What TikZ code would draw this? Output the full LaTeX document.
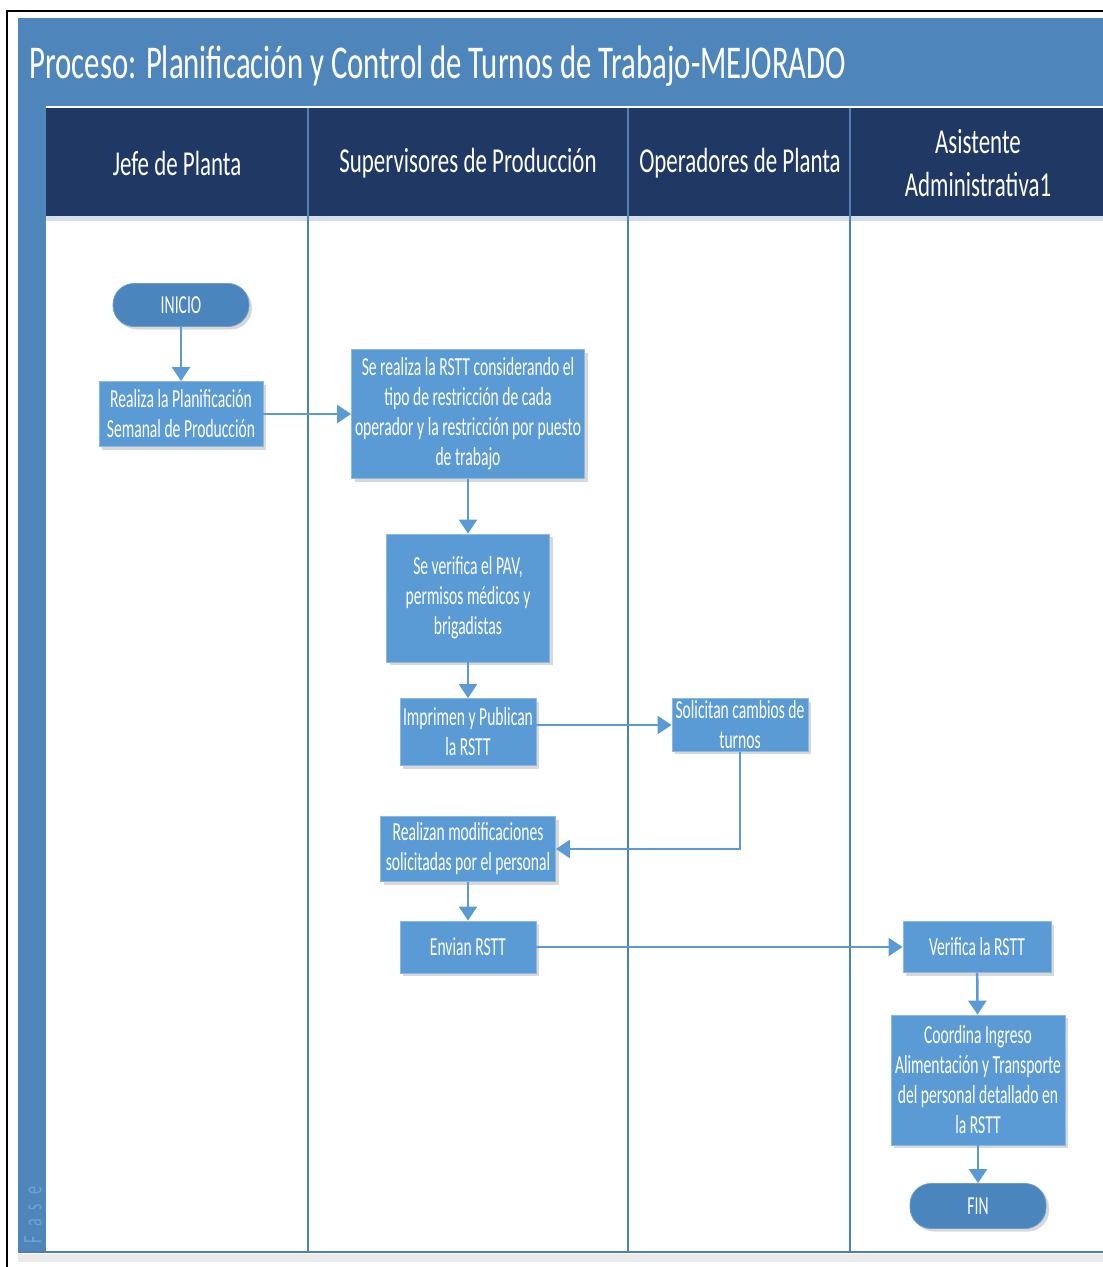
\documentclass[tikz,border=0pt]{standalone}
\usepackage{fontspec}
\setmainfont{Carlito}[FakeStretch=0.6]
\newfontfamily\headfont{Carlito}[FakeStretch=0.655]
\usetikzlibrary{arrows.meta,shadows}
\definecolor{bandblue}{HTML}{4E86BB}
\definecolor{headnavy}{HTML}{203864}
\definecolor{boxblue}{HTML}{5B9BD5}
\definecolor{termblue}{HTML}{4A85BD}
\definecolor{laneblue}{HTML}{4F80B2}
\definecolor{faseblue}{HTML}{6EA2D6}

\begin{document}
\begin{tikzpicture}[x=1pt,y=-1pt,
    act/.style={rectangle,fill=boxblue,draw=boxblue!70!white,line width=0.8pt,text=white,align=center,
      font=\fontsize{26}{30}\selectfont,inner sep=2pt,
      drop shadow={shadow xshift=3pt,shadow yshift=-3pt,opacity=0.3}},
    term/.style={act,fill=termblue,draw=termblue!80!white,rounded corners=21pt},
    flow/.style={draw=boxblue,line width=2.5pt,-{Triangle[length=14pt,width=18pt]}},
    lane/.style={draw=laneblue,line width=2pt},
    head/.style={text=white,align=center,font=\headfont\fontsize{35}{43}\selectfont}]
  \useasboundingbox (0,0) rectangle (1103,1267);
  \fill[white] (0,0) rectangle (1103,1267);
  % pool
  \fill[bandblue] (18,18) rectangle (1103,106);
  \fill[bandblue] (18,106) rectangle (46,1252);
  \fill[headnavy] (46,108) rectangle (1103,216);
  \fill[laneblue!25] (46,216) rectangle (1103,221);
  \fill[black!8] (18,1254) rectangle (1103,1262);
  \foreach \x in {308,628,850}
    \draw[lane] (\x,108) -- (\x,1252);
  \draw[lane] (18,1252) -- (1103,1252);
  \draw[black,line width=2pt] (7,1267) -- (7,11) -- (1103,11);
  \node[anchor=base west,text=white,font=\headfont\fontsize{47}{56}\selectfont] (title) at (26,78)
    {Proceso: Planificación y Control de Turnos de Trabajo-MEJORADO};
  \node[rotate=90,text=faseblue,font=\fontsize{27}{30}\selectfont] (fase) at (33,1215) {F\,\,a\,\,s\,\,e};
  % lanes
  \node[head] (jefe) at (177,163) {Jefe de Planta};
  \node[head] (sup) at (468,163) {Supervisores de Producción};
  \node[head] (oper) at (740,163) {Operadores de Planta};
  \node[head] (asis) at (978,163) {Asistente\\Administrativa1};
  % steps
  \node[term,minimum width=136pt,minimum height=43pt] (inicio) at (181,305) {INICIO};
  \node[act,minimum width=164pt,minimum height=65pt] (plan) at (181,414)
    {Realiza la Planificación\\Semanal de Producción};
  \node[act,minimum width=233pt,minimum height=129pt] (rstt) at (468,414)
    {Se realiza la RSTT considerando el\\tipo de restricción de cada\\operador y la restricción por puesto\\de trabajo};
  \node[act,minimum width=163pt,minimum height=128pt] (pav) at (468,598)
    {Se verifica el PAV,\\permisos médicos y\\brigadistas};
  \node[act,minimum width=136pt,minimum height=67pt] (pub) at (468,732)
    {Imprimen y Publican\\la RSTT};
  \node[act,minimum width=136pt,minimum height=51pt] (sol) at (740,725)
    {Solicitan cambios de\\turnos};
  \node[act,minimum width=175pt,minimum height=65pt] (mod) at (468,849)
    {Realizan modificaciones\\solicitadas por el personal};
  \node[act,minimum width=136pt,minimum height=52pt] (env) at (468,947) {Envian RSTT};
  \node[act,minimum width=148pt,minimum height=51pt] (ver) at (977,947) {Verifica la RSTT};
  \node[act,minimum width=174pt,minimum height=130pt] (coord) at (978,1080)
    {Coordina Ingreso\\Alimentación y Transporte\\del personal detallado en\\la RSTT};
  \node[term,minimum width=136pt,minimum height=45pt] (fin) at (978,1206) {FIN};
  % connectors
  \draw[flow] (inicio) -- (plan);
  \draw[flow] (plan) -- (rstt);
  \draw[flow] (rstt) -- (pav);
  \draw[flow] (pav) -- (pub);
  \draw[flow] (pub.east |- sol.west) -- (sol.west);
  \draw[flow] (sol.south) |- (mod.east);
  \draw[flow] (mod) -- (env);
  \draw[flow] (env) -- (ver);
  \draw[flow] (ver) -- (coord);
  \draw[flow] (coord) -- (fin);
\end{tikzpicture}
\end{document}
